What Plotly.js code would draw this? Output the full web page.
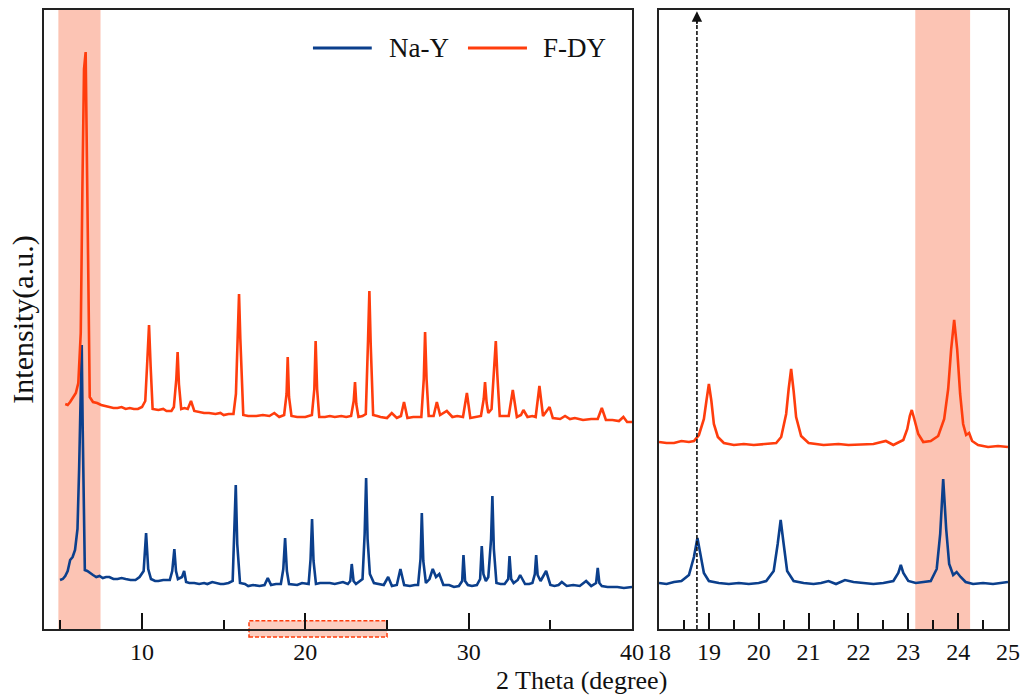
<!DOCTYPE html>
<html>
<head>
<meta charset="utf-8">
<script src="https://cdn.plot.ly/plotly-3.0.1.min.js"></script>
<style>html,body{margin:0;padding:0;background:#fff;}#chart{width:1022px;height:697px;}</style>
</head>
<body>
<div id="chart"></div>
<script>
// ---- Data (intensity in arbitrary units, curves already stacked) ----
const seriesNames = ["Na-Y", "F-DY"];

// Full-range pattern, Na-Y
const naYTheta = [4.98,5.15,5.3,5.45,5.6,5.75,5.9,6.05,6.15,6.22,6.31,6.37,6.43,6.5,6.65,6.8,7.0,7.2,7.4,7.6,7.8,8.0,8.25,8.5,8.75,9.0,9.3,9.6,9.85,10.1,10.25,10.38,10.55,10.8,11.0,11.3,11.7,11.85,11.98,12.08,12.2,12.45,12.58,12.7,12.9,13.2,13.5,13.8,14.0,14.3,14.5,14.8,15.0,15.3,15.55,15.65,15.74,15.83,16.0,16.3,16.5,16.8,17.2,17.5,17.7,17.9,18.2,18.5,18.65,18.76,18.87,19.0,19.3,19.5,19.8,20.2,20.32,20.41,20.5,20.65,20.9,21.2,21.5,21.8,22.0,22.3,22.6,22.75,22.84,22.95,23.1,23.35,23.5,23.63,23.72,23.81,23.95,24.2,24.5,24.8,25.07,25.3,25.6,25.82,26.05,26.4,26.7,26.9,27.05,27.13,27.22,27.38,27.6,27.8,28.0,28.2,28.45,28.8,29.1,29.4,29.6,29.68,29.78,29.95,30.2,30.5,30.7,30.8,30.9,31.05,31.2,31.37,31.45,31.54,31.7,31.95,32.2,32.42,32.5,32.6,32.75,33.0,33.15,33.45,33.7,33.9,34.05,34.13,34.22,34.4,34.74,35.0,35.25,35.5,35.7,36.0,36.4,36.8,37.19,37.5,37.8,37.9,38.0,38.15,38.5,38.8,39.1,39.5,39.8,40.0];
const naYIntensity = [49,50,53,58,69,72,79,100,160,230,284,200,110,59,58,56,54,52,53,51,52,52,50,50,51,50,49,49,52,58,96,60,50,48,48,49,49,58,80,58,50,52,58,47,46,46,45,46,45,47,46,45,45,46,48,90,144,85,46,45,43,44,43,44,51,44,45,45,60,91,58,45,44,44,46,45,70,110,68,45,46,46,46,45,46,47,45,48,65,48,45,48,50,95,151,90,55,46,45,44,52,43,44,60,44,43,44,44,70,116,68,46,50,60,52,55,44,44,42,43,48,74,48,44,43,44,50,83,55,48,52,90,133,80,46,45,45,50,73,50,46,49,54,45,45,46,55,74,54,48,58,44,43,44,47,43,44,43,48,43,46,61,46,43,42,42,42,41,42,42];

// Full-range pattern, F-DY
const fDYTheta = [5.3,5.45,5.6,5.8,5.95,6.1,6.25,6.35,6.45,6.55,6.62,6.7,6.8,7.0,7.25,7.5,7.75,8.0,8.25,8.5,8.75,9.0,9.25,9.5,9.75,10.0,10.2,10.33,10.43,10.53,10.65,11.0,11.3,11.5,11.8,11.95,12.1,12.18,12.26,12.4,12.6,12.8,13.0,13.2,13.5,13.8,14.1,14.5,14.8,15.0,15.3,15.6,15.75,15.86,15.94,16.02,16.2,16.5,17.0,17.4,17.8,18.1,18.4,18.7,18.85,18.92,19.0,19.15,19.5,20.0,20.4,20.55,20.63,20.72,20.85,21.2,21.5,21.8,22.2,22.5,22.8,22.96,23.04,23.12,23.25,23.5,23.7,23.84,23.92,24.0,24.15,24.4,24.6,25.0,25.29,25.6,25.85,26.04,26.25,26.6,27.1,27.25,27.33,27.42,27.55,27.85,28.05,28.25,28.66,29.0,29.3,29.65,29.89,30.1,30.4,30.75,30.92,31.0,31.1,31.2,31.4,31.57,31.66,31.75,31.9,32.2,32.45,32.7,32.95,33.2,33.35,33.6,33.9,34.1,34.33,34.55,34.95,35.15,35.6,35.9,36.2,36.5,37.0,37.5,37.9,38.15,38.4,38.8,39.2,39.47,39.7,40.0];
const fDYIntensity = [225,224,227,232,236,246,296,440,560,577,470,330,232,227,226,224,223,222,221,221,222,220,221,220,220,222,228,270,304,262,220,219,220,218,218,222,250,277,245,220,221,220,228,218,217,216,216,215,216,214,215,215,235,300,335,290,214,213,213,214,213,216,212,214,235,272,232,213,212,212,214,240,288,240,212,212,213,212,213,212,213,228,247,225,212,213,215,290,338,285,214,213,212,211,216,211,213,227,211,212,212,250,297,250,213,213,227,214,218,212,213,212,236,211,212,213,230,247,226,216,220,260,288,255,213,213,213,239,212,214,219,212,213,212,243,213,222,211,210,213,210,211,209,210,210,221,209,209,208,212,207,207];

// Enlarged 18-25 degree window, Na-Y
const naYZoomTheta = [18.0,18.15,18.3,18.45,18.6,18.7,18.77,18.83,18.9,19.0,19.2,19.4,19.6,19.8,20.0,20.15,20.3,20.38,20.44,20.5,20.57,20.7,20.9,21.1,21.25,21.4,21.55,21.73,21.9,22.1,22.3,22.5,22.7,22.8,22.85,22.9,23.0,23.15,23.3,23.45,23.57,23.64,23.7,23.76,23.82,23.9,23.97,24.05,24.15,24.3,24.5,24.7,24.85,25.0];
const naYZoomIntensity = [46,45,47,48,54,72,91,74,56,48,46,45,46,45,46,48,58,85,109,85,58,48,46,45,46,48,45,49,47,46,45,46,48,56,64,56,48,46,47,48,60,95,150,100,65,54,57,52,47,45,46,45,46,47];

// Enlarged 18-25 degree window, F-DY
const fDYZoomTheta = [18.0,18.15,18.3,18.45,18.6,18.7,18.8,18.9,18.95,19.0,19.05,19.1,19.18,19.3,19.5,19.7,19.9,20.1,20.35,20.45,20.55,20.6,20.65,20.7,20.75,20.85,21.0,21.3,21.6,21.8,22.1,22.3,22.55,22.7,22.9,22.98,23.03,23.07,23.12,23.2,23.3,23.45,23.6,23.72,23.8,23.86,23.92,23.98,24.04,24.1,24.16,24.22,24.28,24.4,24.6,24.8,25.0];
const fDYZoomIntensity = [187,186,186,188,187,188,194,210,228,245,228,205,192,186,184,185,184,185,186,192,215,240,260,238,212,193,186,184,185,184,185,185,188,184,189,200,213,219,210,195,187,188,193,210,240,280,309,280,235,205,194,196,188,184,182,183,182];

// Axis text
const xTitle = "2 Theta (degree)";
const yTitle = "Intensity(a.u.)";
const leftTickVals = [10, 20, 30, 40];
const rightTickVals = [18, 19, 20, 21, 22, 23, 24, 25];

// Highlighted regions (degrees)
const leftBand = [4.88, 7.46];
const rightBand = [23.14, 24.24];
const zoomWindowBox = [16.55, 25.0];
const markerTheta = 18.76;

// ---- Styling ----
const blue = "#0b3f8c";
const red = "#ff3d0d";
const band = "rgb(252,196,180)";
const serif = "'Liberation Serif', 'Times New Roman', serif";
const colors = [blue, red];

const traces = [
  {x: naYTheta, y: naYIntensity, name: seriesNames[0], mode: "lines", line: {color: blue, width: 2.6}, xaxis: "x", yaxis: "y"},
  {x: fDYTheta, y: fDYIntensity, name: seriesNames[1], mode: "lines", line: {color: red, width: 2.6}, xaxis: "x", yaxis: "y"},
  {x: naYZoomTheta, y: naYZoomIntensity, name: seriesNames[0], mode: "lines", line: {color: blue, width: 2.6}, xaxis: "x2", yaxis: "y2"},
  {x: fDYZoomTheta, y: fDYZoomIntensity, name: seriesNames[1], mode: "lines", line: {color: red, width: 2.6}, xaxis: "x2", yaxis: "y2"}
];

const axisCommon = {
  showline: true, mirror: true, linecolor: "#222", linewidth: 2,
  showgrid: false, zeroline: false, ticks: "inside", tickcolor: "#111", tickwidth: 2, ticklen: 16,
  tickfont: {family: serif, size: 24, color: "#111"}
};
const yCommon = {
  showline: true, mirror: true, linecolor: "#222", linewidth: 2,
  showgrid: false, zeroline: false, showticklabels: false, ticks: "", range: [0, 619], fixedrange: true
};

// Legend drawn as line samples + text (long line samples as in the reference)
const legendY = 0.9386;
const legendLines = [[0.279, 0.340], [0.4398, 0.501]];
const legendTextX = [0.3558, 0.5156];

const shapes = [
  {type: "rect", xref: "x", yref: "paper", x0: leftBand[0], x1: leftBand[1], y0: 0, y1: 1, fillcolor: band, line: {width: 0}, layer: "below"},
  {type: "rect", xref: "x2", yref: "paper", x0: rightBand[0], x1: rightBand[1], y0: 0, y1: 1, fillcolor: band, line: {width: 0}, layer: "below"},
  {type: "rect", xref: "x", yref: "paper", x0: zoomWindowBox[0], x1: zoomWindowBox[1], y0: -0.013, y1: 0.0134,
   fillcolor: "rgba(252,196,180,0.85)", line: {color: red, width: 1.5, dash: "4px,2px"}, layer: "below"},
  {type: "line", xref: "x2", yref: "paper", x0: markerTheta, x1: markerTheta, y0: 0, y1: 0.985,
   line: {color: "#111", width: 1.6, dash: "4px,2px"}, layer: "above"}
];
const annotations = [
  {xref: "x2", yref: "paper", x: markerTheta, y: 0.998, ax: markerTheta, ay: 0.975, axref: "x2", ayref: "paper",
   showarrow: true, arrowhead: 2, arrowsize: 1.3, arrowwidth: 1.6, arrowcolor: "#111", text: ""},
  {xref: "paper", yref: "paper", x: 0.558, y: -0.0840, xanchor: "center", yanchor: "middle", showarrow: false,
   text: xTitle, font: {family: serif, size: 26, color: "#111"}}
];
seriesNames.forEach((name, i) => {
  shapes.push({type: "line", xref: "paper", yref: "paper", x0: legendLines[i][0], x1: legendLines[i][1], y0: legendY, y1: legendY,
               line: {color: colors[i], width: 3}, layer: "above"});
  annotations.push({xref: "paper", yref: "paper", x: legendTextX[i], y: legendY, xanchor: "left", yanchor: "middle",
                    showarrow: false, text: name, font: {family: serif, size: 27, color: "#111"}});
});

const layout = {
  width: 1022, height: 697,
  margin: {l: 44, r: 14, t: 10, b: 68},
  paper_bgcolor: "#fff", plot_bgcolor: "rgba(0,0,0,0)",
  font: {family: serif, color: "#111"},
  showlegend: false,
  xaxis: Object.assign({}, axisCommon, {domain: [0, 0.61], range: [4, 40], tickvals: leftTickVals,
          minor: {tickvals: [5, 15, 25, 35], ticks: "inside", ticklen: 9, tickwidth: 2, tickcolor: "#111"}}),
  yaxis: Object.assign({}, yCommon, {anchor: "x", title: {text: yTitle, font: {family: serif, size: 30, color: "#111"}, standoff: 0}}),
  xaxis2: Object.assign({}, axisCommon, {domain: [0.638, 1], range: [18, 25], tickvals: rightTickVals, anchor: "y2",
          minor: {dtick: 0.5, tick0: 18, ticks: "inside", ticklen: 9, tickwidth: 2, tickcolor: "#111"}}),
  yaxis2: Object.assign({}, yCommon, {anchor: "x2"}),
  shapes: shapes,
  annotations: annotations
};

Plotly.newPlot("chart", traces, layout, {displayModeBar: false, staticPlot: true});
</script>
</body>
</html>
